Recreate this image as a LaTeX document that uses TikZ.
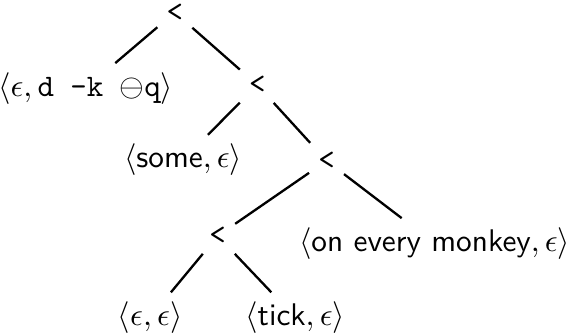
\documentclass[tikz,border=0pt]{standalone}
\usepackage{amsmath}
\usepackage{amssymb}
\usepackage{tikz}

\tikzset{
  op/.style={inner sep=3pt},
  leaf/.style={inner sep=3pt},
  branch/.style={thick}
}

\begin{document}
\begin{tikzpicture}[font=\fontsize{10.8}{13}\selectfont]
        \useasboundingbox (0,0) rectangle (6.9,-4.07);
        % inner nodes
        \node[op] (r) at (2.12,-0.15) {\texttt{<}};
        \node[op] (m) at (3.12,-1.03) {\texttt{<}};
        \node[op] (n) at (3.96,-1.95) {\texttt{<}};
        \node[op] (k) at (2.64,-2.86) {\texttt{<}};
        % leaves
        \node[leaf] (dk) at (1.04,-1.07) {$\langle\epsilon, \texttt{d -k }\mathord{\ominus}\texttt{q}\rangle$};
        \node[leaf] (some) at (2.22,-1.94) {$\langle\textsf{some}, \epsilon\rangle$};
        \node[leaf] (oem) at (5.27,-2.95) {$\langle\textsf{on every monkey}, \epsilon\rangle$};
        \node[leaf] (ee) at (1.82,-3.85) {$\langle\epsilon, \epsilon\rangle$};
        \node[leaf] (tick) at (3.58,-3.85) {$\langle\textsf{tick}, \epsilon\rangle$};
        % branches
        \draw[branch] (r) -- (dk);
        \draw[branch] (r) -- (m);
        \draw[branch] (m) -- (some);
        \draw[branch] (m) -- (n);
        \draw[branch] (n) -- (k);
        \draw[branch] (n) -- (oem);
        \draw[branch] (k) -- (ee);
        \draw[branch] (k) -- (tick);
\end{tikzpicture}
\end{document}
